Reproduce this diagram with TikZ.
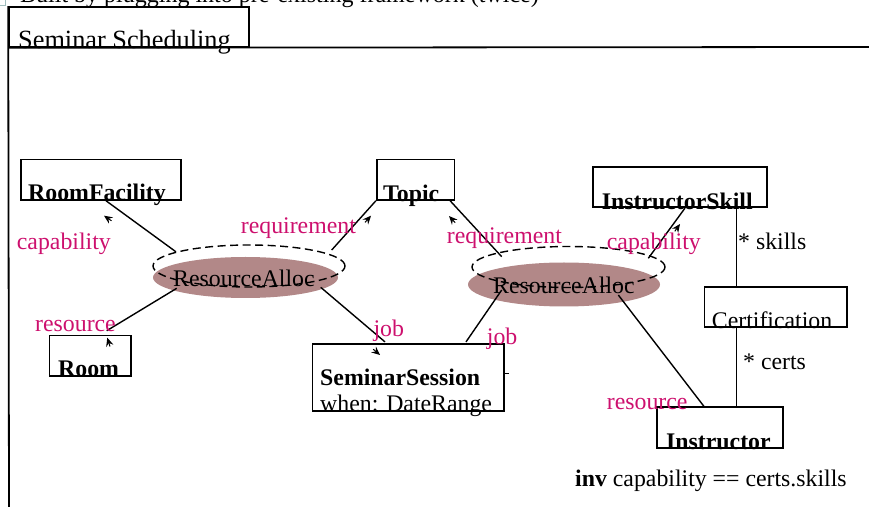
\documentclass[tikz,border=0pt]{standalone}
\usepackage{fontspec}
\setmainfont{Liberation Serif}
\usetikzlibrary{shapes.geometric,arrows.meta}
\definecolor{rolec}{RGB}{205,16,110}
\definecolor{assocfill}{RGB}{178,136,136}
\definecolor{iconc}{RGB}{160,190,190}
\begin{document}
\begin{tikzpicture}[x=1pt,y=1pt,
  txt/.style={anchor=base west,inner sep=0pt,font=\fontsize{23.8}{28}\selectfont},
  bold/.style={txt,font=\fontsize{23.8}{28}\selectfont\bfseries},
  lbl/.style={txt,text=rolec},
  cls/.style={draw,line width=1.6pt,inner sep=0pt,minimum height=40.5pt},
  conn/.style={line width=1.4pt},
  navtip/.style={-{Stealth[length=8.5pt,width=7.5pt,inset=3pt]},line width=1pt},
  fillell/.style={ellipse,fill=assocfill,inner sep=0pt},
  dashell/.style={ellipse,draw,dash pattern=on 8pt off 4.5pt,line width=1.4pt,inner sep=0pt}]
\useasboundingbox (0,0) rectangle (869,506);

% icon and title (cut at the top)
\draw[iconc,line width=0.8pt] (-2,501) rectangle (5,510);
\node[txt,font=\fontsize{24}{28}\selectfont] (title) at (20,503) {Built by plugging into pre-existing framework (twice)};

% frame
\node[cls,minimum width=240pt,minimum height=40pt] (tab) at (129,479) {};
\coordinate (frameR) at (869,459);
\coordinate (frameB) at (9,-3);
\draw[line width=1.8pt] (tab.south west) -- (frameR);
\draw[line width=1.8pt] (tab.north west) -- (frameB);
\node[txt,font=\fontsize{26.3}{30}\selectfont] (sched) at (18,457) {Seminar Scheduling};

% association ellipses
\node[fillell,minimum width=185pt,minimum height=41pt] (f1) at (245.5,228.5) {};
\node[fillell,minimum width=192pt,minimum height=44pt] (f2) at (564,221.5) {};
\node[txt] (ra1) at (173,219.3) {ResourceAlloc};
\node[txt] (ra2) at (493,212) {ResourceAlloc};
\node[dashell,minimum width=192pt,minimum height=42pt] (d1) at (249,240) {};
\node[dashell,minimum width=193pt,minimum height=41pt] (d2) at (568.5,239) {};

% class boxes
\node[cls,minimum width=160pt] (rf) at (100.7,326.3) {};
\node[cls,minimum width=81.4pt] (room) at (90,150.2) {};
\node[cls,minimum width=77.6pt] (topic) at (415.5,326.3) {};
\node[cls,minimum width=174pt,minimum height=40pt] (is) at (679.7,318.7) {};
\node[cls,minimum width=142.4pt,minimum height=40pt] (cert) at (775.5,198.7) {};
\node[cls,minimum width=126pt] (instr) at (719.7,78.5) {};
\node[cls,minimum width=191.7pt,minimum height=67pt] (ss) at (408.2,128.5) {};

% class texts
\node[bold] (rft) at (28,305) {RoomFacility};
\node[bold] (roomt) at (58,129.3) {Room};
\node[bold] (topict) at (383,304.3) {Topic};
\node[bold] (ist) at (601.7,296) {InstructorSkill};
\node[txt] (certt) at (711.7,177.7) {Certification};
\node[bold] (instrt) at (666,57) {Instructor};
\node[bold] (sst) at (320,121) {SeminarSession};
\node[txt] (ssw) at (320,94.3) {when: DateRange};

% connectors
\draw[conn] ([xshift=5.3pt]rf.south) -- (d1.169.4);
\draw[conn] ([shift={(16.7pt,4pt)}]room.north) -- ([shift={(-68.8pt,-10.8pt)}]f1.center);
\draw[conn] ([shift={(82.7pt,16pt)}]d1.center) -- (topic.south west);
\draw[conn] ([shift={(75.2pt,-9.8pt)}]f1.center) -- ([shift={(-23.2pt,1.3pt)}]ss.north);
\draw[conn] ([xshift=-5pt]topic.south east) -- ([shift={(-66.8pt,10.3pt)}]d2.center);
\draw[conn] ([shift={(57.8pt,1.3pt)}]ss.north) -- ([shift={(-62.3pt,-5.5pt)}]f2.center);
\draw[conn] ([shift={(79.8pt,8.7pt)}]d2.center) -- ([xshift=5.3pt]is.south);
\draw[conn] ([shift={(54.3pt,-10.5pt)}]f2.center) -- ([xshift=-15.7pt]instr.north);
\draw[conn] ([xshift=57pt]is.south) -- ([xshift=-38.8pt]cert.north);
\draw[conn] ([xshift=-38.8pt]cert.south) -- ([xshift=17pt]instr.north);
\draw[conn] ([yshift=3.8pt]ss.east) -- ++(4pt,0);

% navigability arrowheads
\draw[navtip] (111.5,285.2) -- (104,290.3);
\draw[navtip] (110,159.5) -- (107.3,168.3);
\draw[navtip] (365,283.6) -- (371,290.3);
\draw[navtip] (373.2,156.8) -- (380,151);
\draw[navtip] (455.2,283.3) -- (449,290);
\draw[navtip] (674.8,274.7) -- (680,282);

% role labels
\node[lbl] (l1) at (16.7,256) {capability};
\node[lbl] (l2) at (35,174.3) {resource};
\node[lbl] (l3) at (240.7,272.7) {requirement};
\node[lbl] (l4) at (373.3,169.3) {job};
\node[lbl] (l5) at (446.7,262.7) {requirement};
\node[lbl] (l6) at (486.7,161.7) {job};
\node[lbl] (l7) at (606.7,256) {capability};
\node[lbl] (l8) at (606.7,96.7) {resource};
\node[txt] (m1) at (738,256) {* skills};
\node[txt] (m2) at (743,136) {* certs};

% invariant
\node[txt] (inv) at (575,19.3) {\textbf{inv} capability == certs.skills};
\end{tikzpicture}
\end{document}
